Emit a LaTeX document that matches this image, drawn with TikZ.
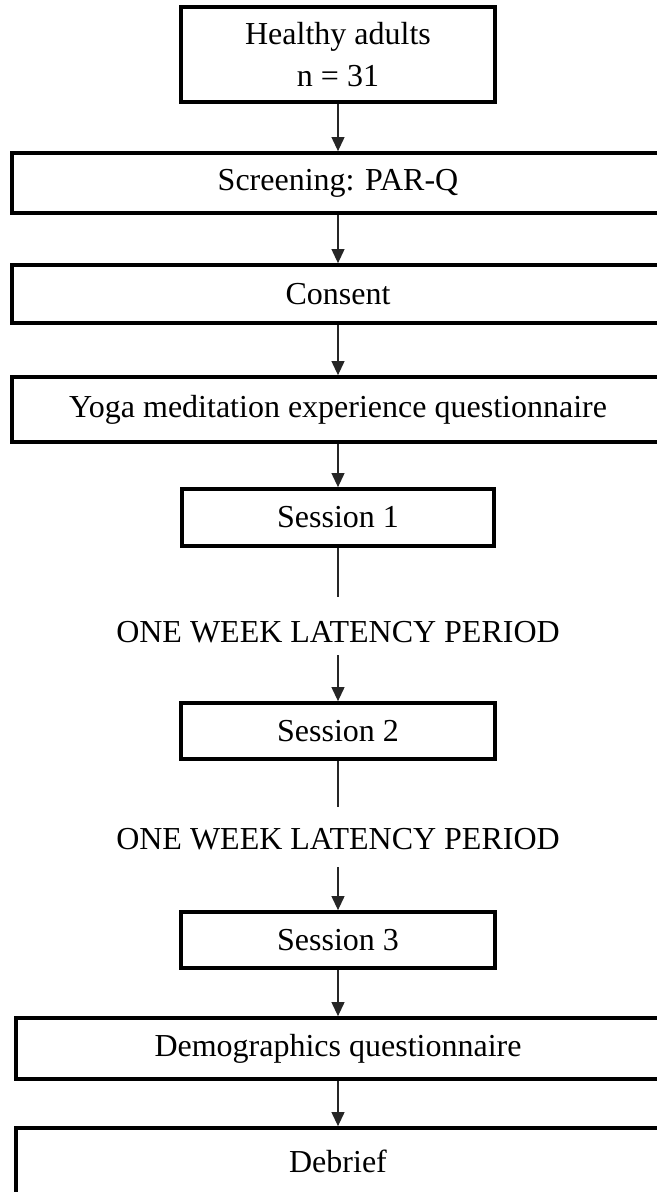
\documentclass[tikz,border=0pt]{standalone}
\usepackage{fontspec}
\setmainfont{Liberation Serif}
\usetikzlibrary{arrows.meta}
\begin{document}
\begin{tikzpicture}[x=0.5pt,y=-0.5pt,
  box/.style={draw=black, line width=1.9pt, fill=white, inner sep=0pt, align=center, font=\fontsize{16}{20.85}\selectfont},
  conn/.style={line width=0.55pt, draw=black!85, -{Triangle[width=6.5pt,length=7pt]}},
  plainline/.style={line width=0.55pt, draw=black!85},
  lat/.style={inner sep=0pt, font=\fontsize{16}{20}\selectfont}]
\clip (0,0) rectangle (657,1192);
\fill[white] (0,0) rectangle (657,1192);
\node[box, minimum width=157pt, minimum height=47.5pt] (b1) at (338,54.5) {Healthy adults\\n = 31};
\node[box, minimum width=326pt, minimum height=30pt] (scr) at (338,183) {Screening: PAR-Q};
\node[box, minimum width=326pt, minimum height=29pt] (con) at (338,294) {Consent};
\node[box, minimum width=326pt, minimum height=32.5pt] (yoga) at (338,409.5) {Yoga meditation experience questionnaire};
\node[box, minimum width=156pt, minimum height=28.5pt] (s1) at (338,517.5) {Session 1};
\node[lat] (lat1) at (338,632) {ONE WEEK LATENCY PERIOD};
\node[box, minimum width=157pt, minimum height=28pt] (s2) at (338,731) {Session 2};
\node[lat] (lat2) at (338,839) {ONE WEEK LATENCY PERIOD};
\node[box, minimum width=157pt, minimum height=28pt] (s3) at (338,940) {Session 3};
\node[box, minimum width=322pt, minimum height=30.5pt] (demo) at (338,1048.5) {Demographics questionnaire};
\node[box, minimum width=322pt, minimum height=33pt] (deb) at (338,1161) {Debrief};
\draw[conn] (b1) -- (scr);
\draw[conn] (scr) -- (con);
\draw[conn] (con) -- (yoga);
\draw[conn] (yoga) -- (s1);
\draw[plainline, shorten >=12pt] (s1) -- (lat1);
\draw[conn, shorten <=6pt] (lat1) -- (s2);
\draw[plainline, shorten >=10.5pt] (s2) -- (lat2);
\draw[conn, shorten <=8.5pt] (lat2) -- (s3);
\draw[conn] (s3) -- (demo);
\draw[conn] (demo) -- (deb);
\end{tikzpicture}
\end{document}
